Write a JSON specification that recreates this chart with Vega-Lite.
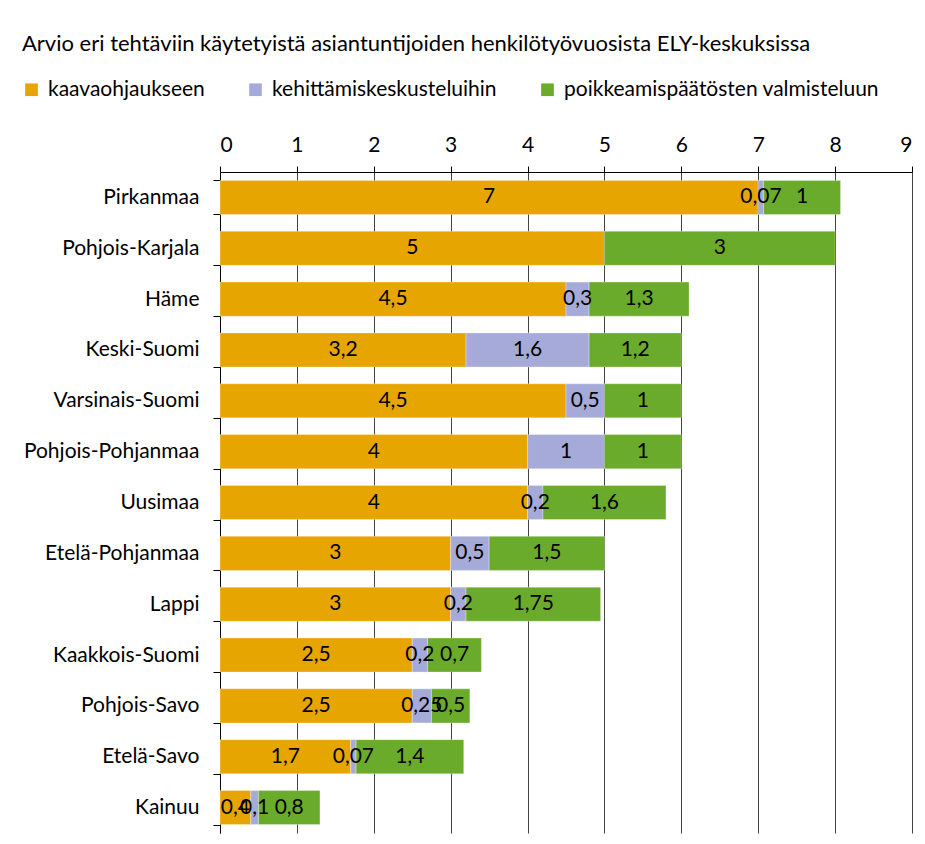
{
  "$schema": "https://vega.github.io/schema/vega-lite/v6.json",
  "width": 692,
  "height": 661,
  "autosize": "none",
  "padding": {"left": 220, "top": 172, "right": 13, "bottom": 11},
  "background": "white",
  "config": {
    "locale": {"number": {"decimal": ",", "thousands": " ", "grouping": [3], "currency": ["", " €"]}},
    "view": {"stroke": null},
    "font": "Lato"
  },
  "title": {
    "text": "Arvio eri tehtäviin käytetyistä asiantuntijoiden henkilötyövuosista ELY-keskuksissa",
    "anchor": "start",
    "frame": "group",
    "dx": -198,
    "dy": -19,
    "fontSize": 22,
    "fontWeight": "normal",
    "color": "black",
    "font": "Lato"
  },
  "data": {
    "values": [
      {"region": "Pirkanmaa", "task": "kaavaohjaukseen", "value": 7},
      {"region": "Pirkanmaa", "task": "kehittämiskeskusteluihin", "value": 0.07},
      {"region": "Pirkanmaa", "task": "poikkeamispäätösten valmisteluun", "value": 1},
      {"region": "Pohjois-Karjala", "task": "kaavaohjaukseen", "value": 5},
      {"region": "Pohjois-Karjala", "task": "poikkeamispäätösten valmisteluun", "value": 3},
      {"region": "Häme", "task": "kaavaohjaukseen", "value": 4.5},
      {"region": "Häme", "task": "kehittämiskeskusteluihin", "value": 0.3},
      {"region": "Häme", "task": "poikkeamispäätösten valmisteluun", "value": 1.3},
      {"region": "Keski-Suomi", "task": "kaavaohjaukseen", "value": 3.2},
      {"region": "Keski-Suomi", "task": "kehittämiskeskusteluihin", "value": 1.6},
      {"region": "Keski-Suomi", "task": "poikkeamispäätösten valmisteluun", "value": 1.2},
      {"region": "Varsinais-Suomi", "task": "kaavaohjaukseen", "value": 4.5},
      {"region": "Varsinais-Suomi", "task": "kehittämiskeskusteluihin", "value": 0.5},
      {"region": "Varsinais-Suomi", "task": "poikkeamispäätösten valmisteluun", "value": 1},
      {"region": "Pohjois-Pohjanmaa", "task": "kaavaohjaukseen", "value": 4},
      {"region": "Pohjois-Pohjanmaa", "task": "kehittämiskeskusteluihin", "value": 1},
      {"region": "Pohjois-Pohjanmaa", "task": "poikkeamispäätösten valmisteluun", "value": 1},
      {"region": "Uusimaa", "task": "kaavaohjaukseen", "value": 4},
      {"region": "Uusimaa", "task": "kehittämiskeskusteluihin", "value": 0.2},
      {"region": "Uusimaa", "task": "poikkeamispäätösten valmisteluun", "value": 1.6},
      {"region": "Etelä-Pohjanmaa", "task": "kaavaohjaukseen", "value": 3},
      {"region": "Etelä-Pohjanmaa", "task": "kehittämiskeskusteluihin", "value": 0.5},
      {"region": "Etelä-Pohjanmaa", "task": "poikkeamispäätösten valmisteluun", "value": 1.5},
      {"region": "Lappi", "task": "kaavaohjaukseen", "value": 3},
      {"region": "Lappi", "task": "kehittämiskeskusteluihin", "value": 0.2},
      {"region": "Lappi", "task": "poikkeamispäätösten valmisteluun", "value": 1.75},
      {"region": "Kaakkois-Suomi", "task": "kaavaohjaukseen", "value": 2.5},
      {"region": "Kaakkois-Suomi", "task": "kehittämiskeskusteluihin", "value": 0.2},
      {"region": "Kaakkois-Suomi", "task": "poikkeamispäätösten valmisteluun", "value": 0.7},
      {"region": "Pohjois-Savo", "task": "kaavaohjaukseen", "value": 2.5},
      {"region": "Pohjois-Savo", "task": "kehittämiskeskusteluihin", "value": 0.25},
      {"region": "Pohjois-Savo", "task": "poikkeamispäätösten valmisteluun", "value": 0.5},
      {"region": "Etelä-Savo", "task": "kaavaohjaukseen", "value": 1.7},
      {"region": "Etelä-Savo", "task": "kehittämiskeskusteluihin", "value": 0.07},
      {"region": "Etelä-Savo", "task": "poikkeamispäätösten valmisteluun", "value": 1.4},
      {"region": "Kainuu", "task": "kaavaohjaukseen", "value": 0.4},
      {"region": "Kainuu", "task": "kehittämiskeskusteluihin", "value": 0.1},
      {"region": "Kainuu", "task": "poikkeamispäätösten valmisteluun", "value": 0.8}
    ]
  },
  "transform": [
    {"stack": "value", "groupby": ["region"], "sort": [{"field": "task", "order": "ascending"}], "as": ["v0", "v1"]},
    {"calculate": "(datum.v0 + datum.v1) / 2", "as": "mid"}
  ],
  "encoding": {
    "y": {
      "field": "region",
      "type": "nominal",
      "sort": ["Pirkanmaa", "Pohjois-Karjala", "Häme", "Keski-Suomi", "Varsinais-Suomi", "Pohjois-Pohjanmaa", "Uusimaa", "Etelä-Pohjanmaa", "Lappi", "Kaakkois-Suomi", "Pohjois-Savo", "Etelä-Savo", "Kainuu"],
      "scale": {"paddingInner": 0.33, "paddingOuter": 0.165},
      "axis": {
        "title": null,
        "domainColor": "black",
        "tickColor": "black",
        "tickSize": 7,
        "tickBand": "extent",
        "labelFont": "Lato",
        "labelFontSize": 21,
        "labelColor": "black",
        "labelPadding": 14,
        "labelLimit": 0
      }
    }
  },
  "layer": [
    {
      "mark": {"type": "bar", "stroke": "white", "strokeWidth": 0.5, "strokeOpacity": 0.6},
      "encoding": {
        "x": {
          "field": "v0",
          "type": "quantitative",
          "scale": {"domain": [0, 9], "nice": false},
          "axis": {
            "orient": "top",
            "title": null,
            "values": [0, 1, 2, 3, 4, 5, 6, 7, 8, 9],
            "format": "d",
            "grid": true,
            "gridColor": "#444444",
            "gridWidth": 1,
            "domainColor": "black",
            "tickColor": "black",
            "tickSize": 6,
            "labelFont": "Lato",
            "labelFontSize": 21,
            "labelColor": "black",
            "labelPadding": 11
          }
        },
        "x2": {"field": "v1"},
        "color": {
          "field": "task",
          "type": "nominal",
          "scale": {
            "domain": ["kaavaohjaukseen", "kehittämiskeskusteluihin", "poikkeamispäätösten valmisteluun"],
            "range": ["#e6a500", "#a6aad8", "#6bab2b"]
          },
          "legend": {
            "title": null,
            "orient": "none",
            "direction": "horizontal",
            "legendX": -199,
            "legendY": -93,
            "symbolType": "square",
            "symbolSize": 160,
            "symbolStrokeWidth": 0,
            "symbolOpacity": 1,
            "labelFont": "Lato",
            "labelFontSize": 21,
            "labelColor": "black",
            "labelOffset": 6,
            "labelLimit": 0,
            "columnPadding": 40
          }
        }
      }
    },
    {
      "mark": {"type": "text", "fontSize": 21, "font": "Lato", "color": "black", "align": "center", "baseline": "middle"},
      "encoding": {
        "x": {"field": "mid", "type": "quantitative"},
        "text": {"field": "value", "type": "quantitative", "format": "~g"}
      }
    }
  ]
}
